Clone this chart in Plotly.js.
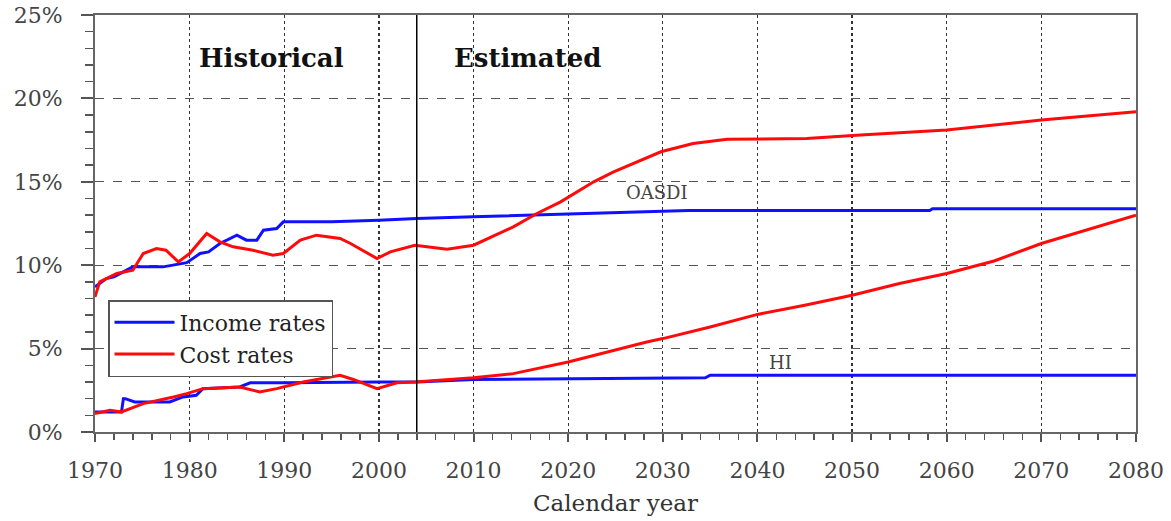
<!DOCTYPE html>
<html>
<head>
<meta charset="utf-8">
<script src="https://cdn.plot.ly/plotly-3.0.1.min.js"></script>
<style>html,body{margin:0;padding:0;background:#fff;}#chart{width:1171px;height:521px;}</style>
</head>
<body>
<div id="chart"></div>
<script>
// OASDI income rate (%)
const oasdiIncomeYears = [1970, 1971.2, 1972, 1974, 1977.2, 1979.7, 1981.1, 1982, 1983.2, 1985, 1986, 1987.1, 1987.8, 1989.2, 1989.9, 1995, 2000, 2004, 2010, 2019, 2025.5, 2032.7, 2058.2, 2058.5, 2080];
const oasdiIncome = [8.7, 9.2, 9.3, 9.9, 9.9, 10.15, 10.7, 10.8, 11.3, 11.8, 11.5, 11.5, 12.1, 12.2, 12.6, 12.6, 12.7, 12.8, 12.9, 13.05, 13.2, 13.28, 13.28, 13.38, 13.38];
// OASDI cost rate (%)
const oasdiCostYears = [1970, 1970.5, 1971.2, 1972.3, 1974, 1975.1, 1976.5, 1977.5, 1978.8, 1980, 1981.8, 1983.2, 1984.6, 1986.7, 1988.8, 1989.9, 1991.7, 1993.4, 1995.9, 1997, 1999.8, 2001.2, 2003.8, 2007.2, 2010, 2014.2, 2016.7, 2019.2, 2022.7, 2024.8, 2029.8, 2033.2, 2036.8, 2045.2, 2050.9, 2060, 2070, 2080];
const oasdiCost = [8.1, 9.0, 9.2, 9.5, 9.7, 10.7, 11.0, 10.9, 10.2, 10.7, 11.9, 11.4, 11.1, 10.9, 10.6, 10.7, 11.5, 11.8, 11.6, 11.3, 10.4, 10.8, 11.2, 10.95, 11.2, 12.3, 13.1, 13.8, 15.0, 15.6, 16.8, 17.3, 17.55, 17.6, 17.8, 18.1, 18.7, 19.2];
// HI income rate (%)
const hiIncomeYears = [1970, 1972.8, 1973, 1973.2, 1974.2, 1977.9, 1979.3, 1980.7, 1981.4, 1985.3, 1986.4, 1990, 2000, 2004, 2010, 2020, 2034.5, 2035, 2080];
const hiIncome = [1.2, 1.2, 2.0, 2.0, 1.8, 1.8, 2.1, 2.2, 2.6, 2.7, 2.95, 2.95, 3.0, 3.0, 3.15, 3.2, 3.25, 3.4, 3.4];
// HI cost rate (%)
const hiCostYears = [1970, 1971.6, 1972.8, 1975.1, 1978.3, 1979.7, 1981.4, 1985.3, 1987.4, 1989.2, 1992, 1994.1, 1995.9, 1997.3, 1999.8, 2001.9, 2003.8, 2010, 2014.2, 2020, 2024.8, 2028.3, 2030, 2035, 2040, 2045, 2050, 2055, 2060, 2065, 2070, 2075, 2080];
const hiCost = [1.1, 1.3, 1.2, 1.7, 2.1, 2.3, 2.6, 2.7, 2.4, 2.6, 3.0, 3.2, 3.4, 3.15, 2.6, 2.95, 3.0, 3.25, 3.5, 4.2, 4.9, 5.4, 5.6, 6.3, 7.05, 7.6, 8.2, 8.9, 9.5, 10.25, 11.3, 12.15, 13.0];

const yTicks = [0, 5, 10, 15, 20, 25];
const yTickLabels = ['0%', '5%', '10%', '15%', '20%', '25%'];
const xTicks = [1970, 1980, 1990, 2000, 2010, 2020, 2030, 2040, 2050, 2060, 2070, 2080];
const projectionStart = 2004;

const BLUE = '#1010ff';
const RED = '#ff0a0a';
const FONT = "'DejaVu Serif', 'Liberation Serif', serif";

const traces = [
  {x: oasdiIncomeYears, y: oasdiIncome, name: 'Income rates', legendgroup: 'inc', showlegend: true, mode: 'lines', line: {color: BLUE, width: 3}},
  {x: oasdiCostYears, y: oasdiCost, name: 'Cost rates', legendgroup: 'cost', showlegend: true, mode: 'lines', line: {color: RED, width: 3}},
  {x: hiIncomeYears, y: hiIncome, name: 'Income rates', legendgroup: 'inc', showlegend: false, mode: 'lines', line: {color: BLUE, width: 3}},
  {x: hiCostYears, y: hiCost, name: 'Cost rates', legendgroup: 'cost', showlegend: false, mode: 'lines', line: {color: RED, width: 3}}
];

const layout = {
  width: 1171, height: 521,
  margin: {l: 95, r: 35, t: 15, b: 89},
  paper_bgcolor: '#fff', plot_bgcolor: '#fff',
  font: {family: FONT, color: '#444', size: 20},
  showlegend: true,
  legend: {
    x: 0.0125, y: 0.3165, xanchor: 'left', yanchor: 'top',
    bgcolor: '#fff', bordercolor: '#555', borderwidth: 1.5,
    font: {family: FONT, size: 22, color: '#222'},
    itemwidth: 60, traceorder: 'normal'
  },
  xaxis: {
    range: [1970, 2080], tickvals: xTicks, ticktext: xTicks.map(String),
    showline: true, mirror: true, linecolor: '#666', linewidth: 2,
    ticks: 'outside', ticklen: 8, tickwidth: 2, tickcolor: '#555',
    minor: {dtick: 2, tick0: 1970, ticks: 'outside', ticklen: 6, tickwidth: 1.5, tickcolor: '#555', showgrid: false},
    showgrid: true, gridcolor: '#333', griddash: 'dot', gridwidth: 1.3,
    zeroline: false,
    tickfont: {family: FONT, size: 22, color: '#444'},
    ticklabelstandoff: 10,
    title: {text: 'Calendar year', font: {family: FONT, size: 23, color: '#333'}, standoff: 12}
  },
  yaxis: {
    range: [0, 25], tickvals: yTicks, ticktext: yTickLabels,
    showline: true, mirror: true, linecolor: '#666', linewidth: 2,
    ticks: 'outside', ticklen: 12, tickwidth: 2, tickcolor: '#555',
    minor: {dtick: 1, tick0: 0, ticks: 'outside', ticklen: 8, tickwidth: 1.5, tickcolor: '#555', showgrid: false},
    showgrid: true, gridcolor: '#555', griddash: 'dash', gridwidth: 1.3,
    zeroline: false,
    tickfont: {family: FONT, size: 22, color: '#444'},
    ticklabelstandoff: 14
  },
  shapes: [
    {type: 'line', xref: 'x', yref: 'paper', x0: projectionStart, x1: projectionStart, y0: 0, y1: 1, line: {color: '#000', width: 1.5}}
  ],
  annotations: [
    {x: 1988.7, y: 22.4, xref: 'x', yref: 'y', text: '<b>Historical</b>', showarrow: false, font: {family: FONT, size: 26, color: '#111'}},
    {x: 2015.7, y: 22.4, xref: 'x', yref: 'y', text: '<b>Estimated</b>', showarrow: false, font: {family: FONT, size: 26, color: '#111'}},
    {x: 2029.4, y: 14.35, xref: 'x', yref: 'y', text: 'OASDI', showarrow: false, font: {family: FONT, size: 18, color: '#444'}},
    {x: 2042.4, y: 4.15, xref: 'x', yref: 'y', text: 'HI', showarrow: false, font: {family: FONT, size: 18, color: '#444'}}
  ]
};

Plotly.newPlot('chart', traces, layout, {displayModeBar: false, staticPlot: true});
</script>
</body>
</html>
